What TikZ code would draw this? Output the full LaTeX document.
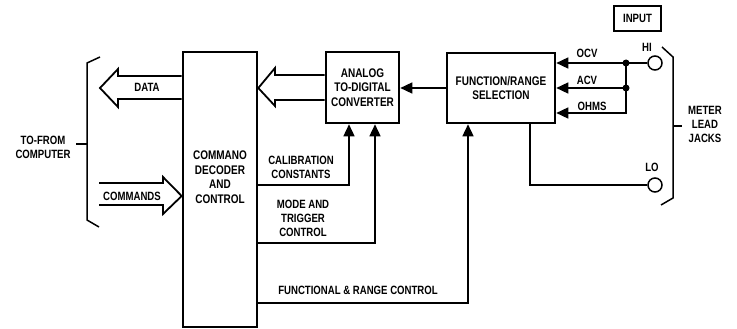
\documentclass[tikz,border=0pt]{standalone}
\usepackage{fontspec}
\setmainfont{Liberation Sans}[FakeStretch=0.8,BoldFont={Liberation Sans Bold},BoldFeatures={FakeStretch=0.8}]
\usetikzlibrary{arrows.meta,calc}
\begin{document}
\begin{tikzpicture}[x=1pt,y=-1pt,
  lbl/.style={font=\bfseries\fontsize{12}{14}\selectfont,inner sep=0pt,align=center},
  blk/.style={draw,line width=2.6pt,inner sep=0pt,align=center,font=\bfseries\fontsize{12.5}{14.5}\selectfont},
  wire/.style={line width=1.5pt},
  arr/.style={wire,-{Triangle[length=12pt,width=11pt]}},
  fat/.style={line width=1.8pt,line join=miter},
  jack/.style={circle,draw,line width=1.5pt,minimum size=14pt,inner sep=0pt,fill=white},
  dot/.style={circle,fill,minimum size=7pt,inner sep=0pt}]
\useasboundingbox (0,0) rectangle (737,329);
% blocks
\node[blk,minimum width=74pt,minimum height=275pt] (cmd) at (220,189.5) {};
\node[lbl,font=\bfseries\fontsize{12.5}{14.5}\selectfont] (cmdt) at (220,177) {COMMANO\\DECODER\\AND\\CONTROL};
\node[blk,minimum width=73pt,minimum height=71pt] (adc) at (362.5,87.5) {ANALOG\\TO-DIGITAL\\CONVERTER};
\node[blk,minimum width=108pt,minimum height=70pt] (fr) at (501,88) {FUNCTION/RANGE\\SELECTION};
\node[draw,line width=1.3pt,minimum width=47pt,minimum height=25pt,inner sep=0pt,font=\bfseries\fontsize{12}{14}\selectfont] (inp) at (637.5,18.5) {INPUT};
% jacks
\node[jack] (hi) at (655,63) {};
\node[jack] (lo) at (655,185) {};
\node[lbl] (hit) at (647,47) {HI};
\node[lbl] (lot) at (652,167) {LO};
% FR -> ADC
\draw[arr] (fr.west) -- (adc.east |- fr.west);
% inputs
\coordinate (d1) at (626,63);
\coordinate (d2) at (626,88);
\coordinate (d3) at (626,113);
\draw[arr] (hi.west) -- (fr.east |- hi.west);
\draw[arr] (d2) -- (fr.east |- d2);
\draw[arr] (d1) -- (d3) -- (fr.east |- d3);
\node[dot] at (d1) {};
\node[dot] at (d2) {};
\node[lbl] at (587,53) {OCV};
\node[lbl] at (587,80) {ACV};
\node[lbl] at (592,106) {OHMS};
% LO return
\coordinate (lr) at (530,185);
\draw[wire] (lo.west) -- (lr) -- (lr |- fr.south);
% control lines
\coordinate (c1) at (349,185);
\coordinate (c2) at (375,243);
\coordinate (c3) at (468,303);
\draw[arr] (cmd.east |- c1) -- (c1) -- (c1 |- adc.south);
\draw[arr] (cmd.east |- c2) -- (c2) -- (c2 |- adc.south);
\draw[arr] (cmd.east |- c3) -- (c3) -- (c3 |- fr.south);
\node[lbl] at (301,167) {CALIBRATION\\CONSTANTS};
\node[lbl] at (303,218) {MODE AND\\TRIGGER\\CONTROL};
\node[lbl] at (358,290) {FUNCTIONAL \& RANGE CONTROL};
% wide arrows
\draw[fat] (adc.west |- 0,75) -- (275,75) -- (275,68) -- (cmd.east |- 0,88) -- (275,106) -- (275,100) -- (adc.west |- 0,100);
\draw[fat] (cmd.west |- 0,76) -- (118,76) -- (118,69) -- (100,88) -- (118,107) -- (118,99) -- (cmd.west |- 0,99);
\node[lbl] at (147,87) {DATA};
\draw[fat] (99,183) -- (163,183) -- (163,177) -- (cmd.west |- 0,196) -- (163,214) -- (163,205) -- (99,205);
\node[lbl] at (132,196) {COMMANDS};
% brackets
\draw[wire] (100,57) -- (87,63) -- (87,220) -- (99,227);
\draw[wire] (76,144) -- (87,144);
\node[lbl] at (43,147) {TO-FROM\\COMPUTER};
\draw[wire] (662,47) -- (673,57) -- (673,198) -- (661,205);
\draw[wire] (673,126) -- (682,126);
\node[lbl] at (705,124) {METER\\LEAD\\JACKS};
\end{tikzpicture}
\end{document}
